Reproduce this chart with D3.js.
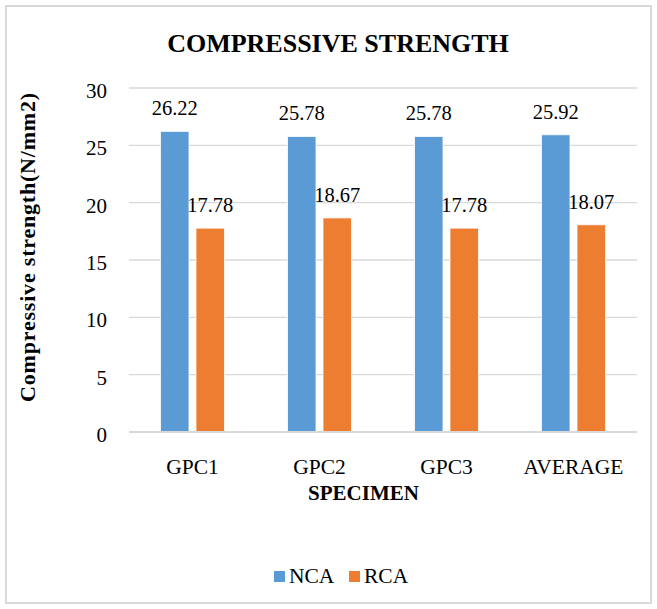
<!DOCTYPE html>
<html>
<head>
<meta charset="utf-8">
<script src="https://cdn.jsdelivr.net/npm/d3@7"></script>
<style>
  html, body { margin: 0; padding: 0; background: #fff; }
  svg { display: block; }
  text { font-family: "Liberation Serif", "Times New Roman", serif; fill: #000; }
</style>
</head>
<body>
<svg id="chart" width="657" height="609"></svg>
<script>
const categories = ["GPC1", "GPC2", "GPC3", "AVERAGE"];
const seriesNames = ["NCA", "RCA"];
const ncaValues = [26.22, 25.78, 25.78, 25.92];
const rcaValues = [17.78, 18.67, 17.78, 18.07];
const yTicks = [0, 5, 10, 15, 20, 25, 30];
const seriesColors = ["#5B9BD5", "#ED7D31"];

const svg = d3.select("#chart");
const plot = { left: 129, right: 637, top: 88, bottom: 432 };

svg.append("rect")
  .attr("x", 6).attr("y", 6).attr("width", 645).attr("height", 597)
  .attr("fill", "#fff").attr("stroke", "#D9D9D9").attr("stroke-width", 2);

const x0 = d3.scaleBand().domain(categories)
  .range([plot.left, plot.right]).paddingInner(0.496).paddingOuter(0.248);
const x1 = d3.scaleBand().domain(seriesNames)
  .range([0, x0.bandwidth()]).paddingInner(0.197).paddingOuter(0);
const y = d3.scaleLinear().domain([0, 30]).range([plot.bottom, plot.top]);
const color = d3.scaleOrdinal().domain(seriesNames).range(seriesColors);

// gridlines
svg.append("g").selectAll("line").data(yTicks.filter(t => t !== 0)).join("line")
  .attr("x1", plot.left).attr("x2", plot.right)
  .attr("y1", d => y(d)).attr("y2", d => y(d))
  .attr("stroke", "#D9D9D9").attr("stroke-width", 1.3);

// y axis labels
const yAxis = d3.axisLeft(y).tickValues(yTicks).tickSize(0).tickPadding(22);
const yg = svg.append("g").attr("transform", `translate(${plot.left},0)`).call(yAxis);
yg.select(".domain").remove();
yg.selectAll("text").attr("font-size", 21)
  .attr("fill", "#000").attr("dy", "0.45em");

// data
const rows = categories.map((c, i) => ({ cat: c, values: [
  { s: "NCA", v: ncaValues[i] }, { s: "RCA", v: rcaValues[i] } ] }));

const groups = svg.append("g").selectAll("g").data(rows).join("g")
  .attr("transform", d => `translate(${x0(d.cat)},0)`);

groups.selectAll("rect").data(d => d.values).join("rect")
  .attr("x", d => x1(d.s)).attr("width", x1.bandwidth())
  .attr("y", d => y(d.v)).attr("height", d => y(0) - y(d.v))
  .attr("fill", d => color(d.s)).attr("stroke", "#fff").attr("stroke-width", 0.8);

groups.selectAll("text.val").data(d => d.values).join("text")
  .attr("class", "val")
  .attr("x", d => x1(d.s) + x1.bandwidth() / 2)
  .attr("y", d => y(d.v) - 16)
  .attr("text-anchor", "middle").attr("font-size", 20.5)
  .text(d => d.v.toFixed(2));

// x axis line
svg.append("line").attr("x1", plot.left).attr("x2", plot.right)
  .attr("y1", y(0)).attr("y2", y(0)).attr("stroke", "#D9D9D9").attr("stroke-width", 2);

// x axis labels
const xAxis = d3.axisBottom(x0).tickSize(0).tickPadding(0);
const xg = svg.append("g").attr("transform", `translate(0,${plot.bottom})`).call(xAxis);
xg.select(".domain").remove();
xg.selectAll("text").attr("font-size", 21.5)
  .attr("fill", "#000").attr("dy", null).attr("y", 42);

// titles
svg.append("text").attr("x", 338).attr("y", 52).attr("text-anchor", "middle")
  .attr("font-size", 26).attr("font-weight", "bold").text("COMPRESSIVE STRENGTH");
svg.append("text").attr("x", 363.5).attr("y", 500).attr("text-anchor", "middle")
  .attr("font-size", 21).attr("font-weight", "bold").text("SPECIMEN");
svg.append("text").attr("transform", "translate(35,247) rotate(-90)")
  .attr("text-anchor", "middle").attr("font-size", 22).attr("font-weight", "bold")
  .attr("letter-spacing", 0.8)
  .text("Compressive strength(N/mm2)");

// legend
const legendX = [274, 349];
const lg = svg.append("g").selectAll("g").data(seriesNames).join("g")
  .attr("transform", (d, i) => `translate(${legendX[i]},571)`);
lg.append("rect").attr("width", 11).attr("height", 11).attr("fill", d => color(d));
lg.append("text").attr("x", 15).attr("y", 12).attr("font-size", 21.5).text(d => d);
</script>
</body>
</html>
